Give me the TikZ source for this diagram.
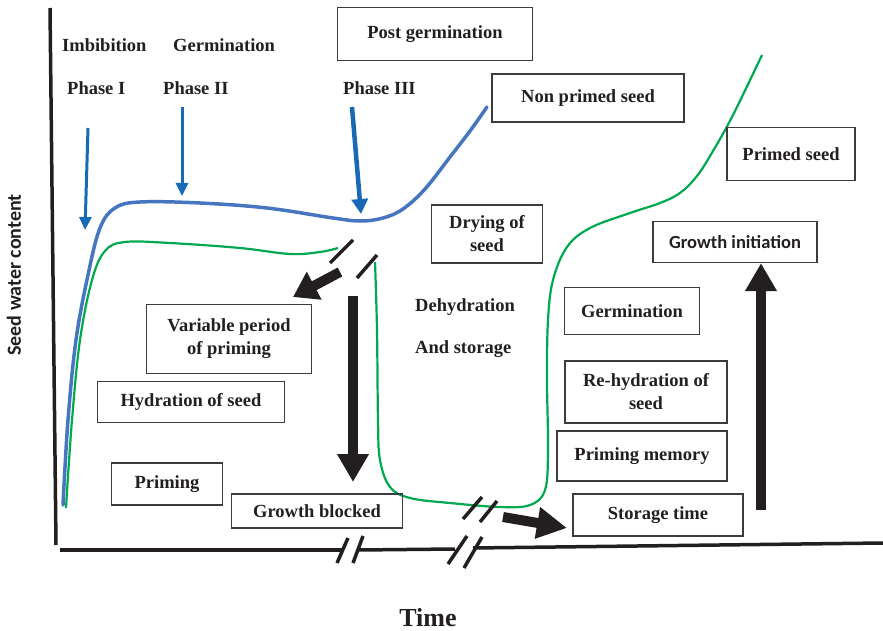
\documentclass[tikz,border=0pt]{standalone}
\usepackage{fontspec}
\setmainfont{Liberation Serif}
\setsansfont{Carlito}
\usepackage{tikz}
\usetikzlibrary{arrows.meta}

\definecolor{curveblue}{RGB}{70,118,192}
\definecolor{arrowblue}{RGB}{24,106,182}
\definecolor{curvegreen}{RGB}{0,168,80}
\definecolor{inkgray}{RGB}{35,31,32}
\definecolor{framegray}{RGB}{60,60,60}

\tikzset{
  box/.style={draw=framegray, line width=1.2pt, rectangle, inner sep=0pt, align=center,
    text=inkgray, font=\fontsize{18.5}{23}\selectfont\bfseries},
  lbl/.style={inner sep=0pt, text=inkgray, anchor=base west, font=\fontsize{18.5}{23}\selectfont\bfseries},
  bigarrow/.style={line width=10pt, draw=inkgray, -{Triangle[length=28pt, width=30pt]}},
  phasearrow/.style={draw=arrowblue, line width=3pt, -{Triangle[length=13pt, width=12pt]}},
  brk/.style={line width=3.5pt, draw=inkgray},
}

\begin{document}
\begin{tikzpicture}[x=1pt, y=-1pt]
            \useasboundingbox (0,0) rectangle (883,631);

            % Axes
            \draw[line width=3.5pt, inkgray] (50,8) -- (56,545);
            \draw[line width=3.5pt, inkgray] (60,550) -- (343,550);
            \draw[line width=3.5pt, inkgray] (358,550) -- (455,549);
            \draw[line width=3.5pt, inkgray] (473,548) -- (883,543);
            \draw[brk] (337,563) -- (348,538);
            \draw[brk] (353,563) -- (363,536);
            \draw[brk] (448,564) -- (467,536);
            \draw[brk] (464,568) -- (482,537);

            % Axis labels
            \node[rotate=90, inner sep=0pt, text=inkgray, font=\sffamily\bfseries\fontsize{20}{24}\selectfont] (ylabel) at (14,275) {Seed water content};
            \node[inner sep=0pt, text=inkgray, font=\fontsize{26}{30}\selectfont\bfseries] (xlabel) at (428,618) {Time};

            % Phase labels (top)
            \node[lbl] (imbib) at (62,52) {Imbibition};
            \node[lbl] (germtop) at (173,52) {Germination};
            \node[lbl] (phaseI) at (67,95) {Phase I};
            \node[lbl] (phaseII) at (163,95) {Phase II};
            \node[lbl] (phaseIII) at (343,95) {Phase III};

            % Non primed seed (blue)
            \draw[curveblue, line width=3.5pt, line cap=round] plot[smooth, tension=0.6] coordinates {
              (63,505) (68,420) (76,340) (88,275) (100,228) (115,208) (140,202) (200,203)
              (267,208) (333,218) (360,221) (383,218) (403,209) (425,189) (450,157) (470,131) (487,107)};

            % Primed seed (green), before drying
            \draw[curvegreen, line width=2.2pt] plot[smooth, tension=0.6] coordinates {
              (66,508) (72,420) (80,340) (92,280) (105,251) (125,242) (170,243)
              (240,248) (290,254) (320,252) (338,248)};

            % Primed seed (green), after drying
            \draw[curvegreen, line width=2.2pt] plot[smooth, tension=0.6] coordinates {
              (375,262) (377,330) (378,420) (380,460) (390,487) (410,498) (450,503)
              (500,507) (530,505) (545,490) (548,450) (547,380) (548,320) (553,280)
              (567,247) (590,228) (630,213) (660,203) (680,193) (697,176) (713,151) (733,115) (762,55)};

            % Break marks on the curves
            \draw[brk] (330,263) -- (353,240);
            \draw[brk] (357,278) -- (377,255);
            \draw[brk] (463,519) -- (482,497);
            \draw[brk] (480,522) -- (497,501);

            % Boxes (left side)
            \node[box, minimum width=195pt, minimum height=53pt] (post) at (435,34) {Post germination};
            \node[box, minimum width=165pt, minimum height=69pt] (varperiod) at (229,339) {Variable period\\of priming};
            \node[box, minimum width=187pt, minimum height=41pt] (hydration) at (191,402) {Hydration of seed};
            \node[box, minimum width=111pt, minimum height=42pt] (priming) at (167,484) {Priming};
            \node[box, minimum width=171pt, minimum height=34pt] (blocked) at (317,511) {Growth blocked};
            \node[box, minimum width=111pt, minimum height=58pt] (drying) at (487,234) {Drying of\\seed};

            % Boxes (right side)
            \node[box, minimum width=192pt, minimum height=48pt] (nonprimed) at (588,98) {Non primed seed};
            \node[box, minimum width=128pt, minimum height=53pt] (primed) at (791,154) {Primed seed};
            \node[box, minimum width=164pt, minimum height=41pt, font=\sffamily\bfseries\fontsize{18.5}{23}\selectfont] (growthinit) at (735,242) {Growth initiation};
            \node[box, minimum width=135pt, minimum height=47pt] (germright) at (632,311) {Germination};
            \node[box, minimum width=162pt, minimum height=62pt] (rehydration) at (646,392) {Re-hydration of\\seed};
            \node[box, minimum width=170pt, minimum height=50pt] (memory) at (642,456) {Priming memory};
            \node[box, minimum width=170pt, minimum height=42pt] (storage) at (658,515) {Storage time};

            % Dehydration text
            \node[lbl] (dehyd) at (415,311) {Dehydration};
            \node[lbl] (andstor) at (415,353) {And storage};

            % Phase arrows
            \coordinate (pI) at (88,128);
            \coordinate (pII) at (182,107);
            \coordinate (pIII) at (352,107);
            \draw[phasearrow] (pI) -- (85,230);
            \draw[phasearrow] (pII) -- (182,196);
            \draw[phasearrow, line width=4.5pt, -{Triangle[length=15pt, width=16pt]}] (pIII) -- (361,214);

            % Big arrows
            \coordinate (diagstart) at (340,272);
            \coordinate (downstart) at (353,296);
            \coordinate (rightstart) at (503,517);
            \coordinate (upstart) at (761,510);
            \draw[bigarrow, -{Triangle[length=24pt, width=30pt]}] (diagstart) -- (293,297);
            \draw[bigarrow] (downstart) -- (353,482);
            \draw[bigarrow, -{Triangle[length=30pt, width=30pt]}] (rightstart) -- (567,528);
            \draw[bigarrow] (upstart) -- (upstart |- growthinit.south);
        \end{tikzpicture}
\end{document}
